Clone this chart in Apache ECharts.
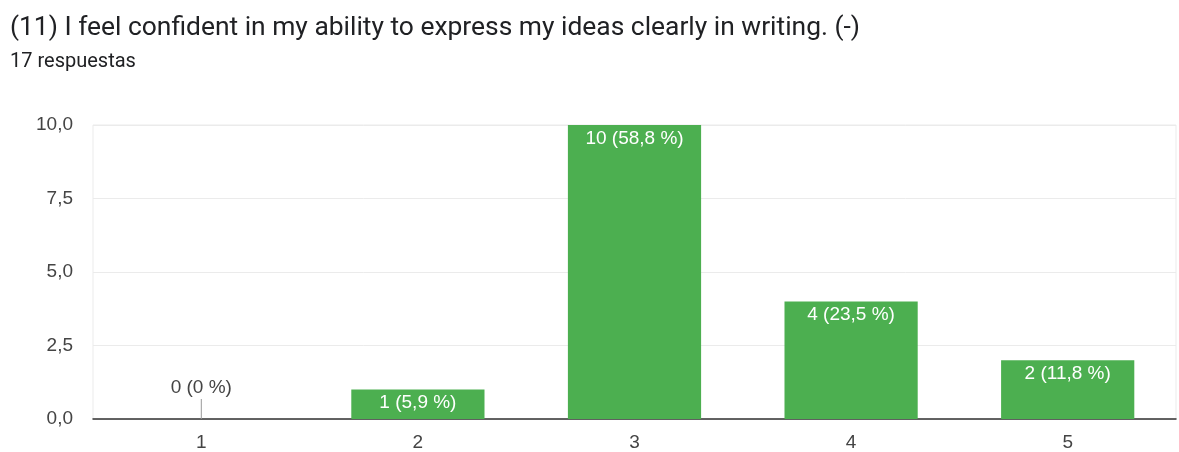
<!DOCTYPE html>
<html>
<head>
<meta charset="utf-8">
<script src="https://cdn.jsdelivr.net/npm/echarts@6/dist/echarts.min.js"></script>
<style>
  html, body { margin: 0; padding: 0; background: #fff; }
  #chart { width: 1179px; height: 452px; }
</style>
</head>
<body>
<div id="chart"></div>
<script>
const titleText = '(11) I feel confident in my ability to express my ideas clearly in writing. (-)';
const subtitleText = '17 respuestas';
const categories = ['1', '2', '3', '4', '5'];
const counts = [0, 1, 10, 4, 2];
const total = 17;

const green = '#4caf50';
const fmtNum = (v, d) => v.toFixed(d).replace('.', ',');
const labelFor = (v) => v + ' (' + (v === 0 ? '0' : fmtNum(v / total * 100, 1)) + ' %)';

const barData = counts.map(v => {
    if (v === 0) {
        return { value: v, label: { position: 'top', distance: 22, color: '#444' } };
    }
    return v;
});

const chart = echarts.init(document.getElementById('chart'));
chart.setOption({
    animation: false,
    title: [
        { text: titleText, left: 5, top: 10,
          textStyle: { fontFamily: 'Roboto', fontSize: 26.4, fontWeight: 'normal', color: '#202124' } },
        { text: subtitleText, left: 5, top: 47,
          textStyle: { fontFamily: 'Roboto', fontSize: 20, fontWeight: 'normal', color: '#202124' } }
    ],
    grid: { left: 93, right: 3, top: 125, bottom: 32, show: true, borderColor: '#ebebeb', borderWidth: 1 },
    xAxis: {
        type: 'category',
        data: categories,
        axisLine: { lineStyle: { color: '#333', width: 1.5 } },
        axisTick: { show: false },
        axisLabel: { fontFamily: 'Liberation Sans, Arial', fontSize: 19, color: '#444', margin: 14 }
    },
    yAxis: {
        type: 'value',
        min: 0, max: 10, interval: 2.5,
        axisLine: { show: false },
        axisTick: { show: false },
        splitLine: { lineStyle: { color: '#ebebeb' } },
        axisLabel: { fontFamily: 'Liberation Sans, Arial', fontSize: 19, color: '#444', margin: 20,
                     formatter: v => fmtNum(v, 1) }
    },
    series: [
        {
            type: 'bar',
            data: barData,
            barWidth: '61.5%',
            itemStyle: { color: green },
            label: {
                show: true,
                position: 'insideTop',
                distance: 4,
                color: '#fff',
                fontFamily: 'Liberation Sans, Arial',
                fontSize: 19,
                formatter: p => labelFor(counts[p.dataIndex])
            }
        },
        {
            // short leader line under labels of empty categories
            type: 'custom',
            silent: true,
            data: counts.map((v, i) => [i, v]).filter(d => d[1] === 0),
            renderItem: (params, api) => {
                const p = api.coord([api.value(0), 0]);
                return {
                    type: 'line',
                    shape: { x1: p[0], y1: p[1], x2: p[0], y2: p[1] - 20 },
                    style: { stroke: '#999', lineWidth: 1 }
                };
            },
            z: 1
        }
    ]
});
</script>
</body>
</html>
